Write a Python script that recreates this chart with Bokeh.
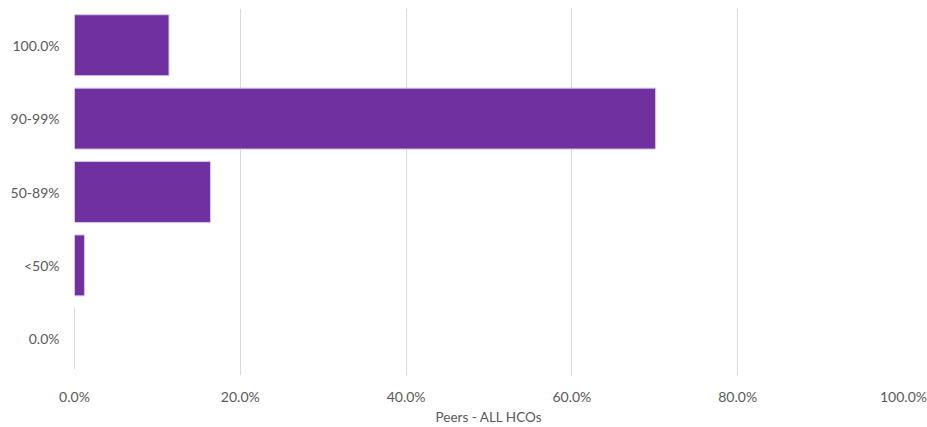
from bokeh.plotting import figure
from bokeh.models import FactorRange, Range1d, ColumnDataSource, FixedTicker, PrintfTickFormatter
from bokeh.embed import file_html
from bokeh.resources import INLINE

# Share of peer organisations in each compliance band
categories = ["0.0%", "<50%", "50-89%", "90-99%", "100.0%"]
peer_share = [0.0, 1.2, 16.4, 70.1, 11.4]
x_ticks = [0, 20, 40, 60, 80, 100]

source = ColumnDataSource(data=dict(cat=categories, val=peer_share))

p = figure(
    width=927, height=427,
    y_range=FactorRange(*categories, range_padding=0),
    x_range=Range1d(0, 100),
    output_backend="svg", toolbar_location=None,
    min_border_left=74, min_border_right=24, min_border_top=8, min_border_bottom=52,
)
p.outline_line_color = None
p.background_fill_color = "white"

p.hbar(y="cat", right="val", left=0, height=0.83, source=source,
       fill_color="#7030A0", line_color="#d6c5e6", line_width=1)

font = "Lato"
p.xaxis.ticker = FixedTicker(ticks=x_ticks)
p.xaxis.formatter = PrintfTickFormatter(format="%.1f%%")
p.xaxis.axis_label = "Peers - ALL HCOs"
p.xaxis.axis_label_text_font = font
p.xaxis.axis_label_text_font_style = "normal"
p.xaxis.axis_label_text_font_size = "13.5px"
p.xaxis.axis_label_text_color = "#595959"
p.xaxis.axis_label_standoff = 1

for ax in (p.xaxis, p.yaxis):
    ax.axis_line_color = None
    ax.major_tick_line_color = None
    ax.minor_tick_line_color = None
    ax.major_label_text_font = font
    ax.major_label_text_font_size = "14px"
    ax.major_label_text_color = "#595959"

p.xaxis.major_label_standoff = 6
p.yaxis.major_label_standoff = 9

p.xgrid.grid_line_color = "#d9d9d9"
p.xgrid.ticker = FixedTicker(ticks=x_ticks)
p.ygrid.grid_line_color = None

open("out.html", "w").write(file_html(p, INLINE))
